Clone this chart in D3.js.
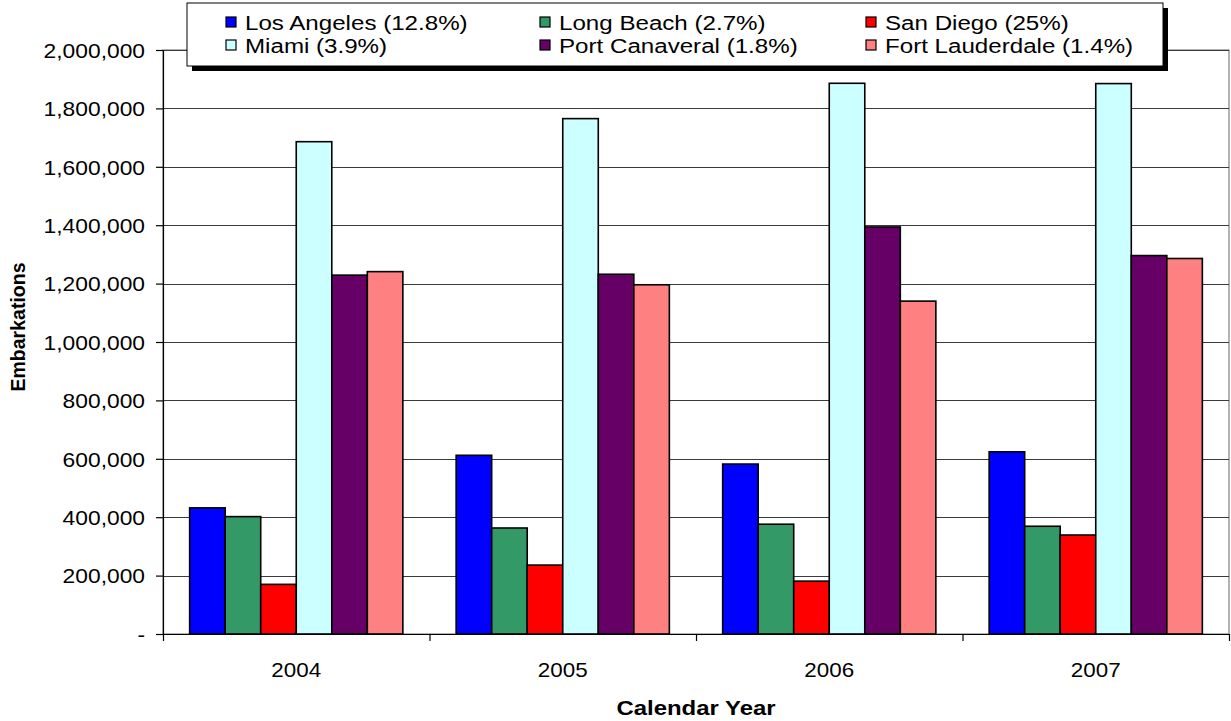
<!DOCTYPE html>
<html>
<head>
<meta charset="utf-8">
<script src="https://cdn.jsdelivr.net/npm/d3@7"></script>
<style>
  html, body { margin: 0; padding: 0; background: #fff; }
  svg { display: block; font-family: "Liberation Sans", Arial, sans-serif; }
</style>
</head>
<body>
<svg id="chart" width="1231" height="721"></svg>
<script>
// Cruise embarkations by port, calendar years 2004-2007
const years = ["2004", "2005", "2006", "2007"];
const ports = [
  "Los Angeles (12.8%)", "Long Beach (2.7%)", "San Diego (25%)",
  "Miami (3.9%)", "Port Canaveral (1.8%)", "Fort Lauderdale (1.4%)"
];
const losAngeles     = [432000, 612000, 582000, 624000];
const longBeach      = [402000, 363000, 376000, 369000];
const sanDiego       = [170000, 236000, 181000, 339000];
const miami          = [1686000, 1765000, 1886000, 1885000];
const portCanaveral  = [1229000, 1232000, 1394000, 1296000];
const fortLauderdale = [1241000, 1196000, 1140000, 1286000];
const yTicks = [0, 200000, 400000, 600000, 800000, 1000000, 1200000, 1400000, 1600000, 1800000, 2000000];
const colors = ["#0000FF", "#339966", "#FF0000", "#CCFFFF", "#660066", "#FF8080"];

const seriesValues = [losAngeles, longBeach, sanDiego, miami, portCanaveral, fortLauderdale];
const rows = [];
years.forEach((yr, yi) => {
  ports.forEach((p, si) => rows.push({ year: yr, port: p, si, value: seriesValues[si][yi] }));
});

const svg = d3.select("#chart");
const plot = { left: 163, right: 1229, top: 50, bottom: 634 };

const x0 = d3.scaleBand().domain(years).range([plot.left, plot.right]).paddingInner(0).paddingOuter(0);
const x1 = d3.scaleBand().domain(d3.range(ports.length)).range([0, x0.bandwidth()]).paddingInner(0).paddingOuter(0.75);
const y = d3.scaleLinear().domain([0, 2000000]).range([plot.bottom, plot.top]);
const xEdge = d3.scaleLinear().domain([0, years.length]).range([plot.left, plot.right]);

const fmt = d => d === 0 ? "-" : d3.format(",")(d);

// plot area frame
svg.append("rect")
  .attr("x", plot.left).attr("y", plot.top)
  .attr("width", plot.right - plot.left).attr("height", plot.bottom - plot.top)
  .attr("fill", "#fff").attr("stroke", "#808080").attr("stroke-width", 1.2);

// horizontal gridlines
svg.append("g")
  .selectAll("line")
  .data(yTicks.filter(d => d > 0))
  .join("line")
  .attr("x1", plot.left).attr("x2", plot.right)
  .attr("y1", d => Math.round(y(d)) + 0.5).attr("y2", d => Math.round(y(d)) + 0.5)
  .attr("stroke", "#3a3a3a").attr("stroke-width", 1);

// bars
svg.append("g")
  .selectAll("rect")
  .data(rows)
  .join("rect")
  .attr("x", d => x0(d.year) + x1(d.si))
  .attr("y", d => y(d.value))
  .attr("width", x1.bandwidth())
  .attr("height", d => y(0) - y(d.value))
  .attr("fill", d => colors[d.si])
  .attr("stroke", "#000").attr("stroke-width", 1.6);

// y axis
const yAxis = svg.append("g")
  .attr("transform", `translate(${plot.left},0)`)
  .call(d3.axisLeft(y).tickValues(yTicks).tickFormat(fmt).tickSize(7).tickSizeOuter(0));
yAxis.select(".domain").attr("stroke", "#000").attr("stroke-width", 1.2);
yAxis.selectAll(".tick line").attr("stroke", "#000").attr("stroke-width", 1.2);
yAxis.selectAll(".tick text")
  .attr("x", 0).attr("dy", "0.36em")
  .attr("transform", "translate(-18,0) scale(1.14,1)")
  .attr("font-size", 20).attr("fill", "#000")
  .attr("font-family", "Liberation Sans, Arial, sans-serif");

// x axis: boundary ticks
const xAxis = svg.append("g")
  .attr("transform", `translate(0,${plot.bottom})`)
  .call(d3.axisBottom(xEdge).tickValues(d3.range(years.length + 1)).tickFormat("").tickSize(7).tickSizeOuter(0));
xAxis.select(".domain").attr("stroke", "#000").attr("stroke-width", 1.2);
xAxis.selectAll(".tick line").attr("stroke", "#000").attr("stroke-width", 1.2);

// x axis: year labels centred in each band
const xLabels = svg.append("g")
  .attr("transform", `translate(0,${plot.bottom})`)
  .call(d3.axisBottom(x0).tickSize(0).tickPadding(0));
xLabels.select(".domain").remove();
xLabels.selectAll(".tick text")
  .attr("y", 0).attr("dy", 0)
  .attr("transform", "translate(0,43) scale(1.12,1)")
  .attr("font-size", 20).attr("fill", "#000")
  .attr("font-family", "Liberation Sans, Arial, sans-serif");

// axis titles
svg.append("text")
  .attr("transform", `translate(${(plot.left + plot.right) / 2},715) scale(1.14,1)`)
  .attr("text-anchor", "middle")
  .attr("font-size", 21).attr("font-weight", "bold")
  .text("Calendar Year");

svg.append("text")
  .attr("transform", "translate(25,327) rotate(-90)")
  .attr("text-anchor", "middle")
  .attr("font-size", 19.5).attr("font-weight", "bold")
  .text("Embarkations");

// legend box with drop shadow
const legend = { x: 187, y: 3, w: 976, h: 63 };
svg.append("rect")
  .attr("x", legend.x + 5).attr("y", legend.y + 5)
  .attr("width", legend.w).attr("height", legend.h)
  .attr("fill", "#000");
svg.append("rect")
  .attr("x", legend.x).attr("y", legend.y)
  .attr("width", legend.w).attr("height", legend.h)
  .attr("fill", "#fff").attr("stroke", "#000").attr("stroke-width", 1);

const colX = [226, 540, 866];
const rowY = [22, 45];
const items = svg.append("g")
  .selectAll("g")
  .data(ports)
  .join("g")
  .attr("transform", (d, i) => `translate(${colX[i % 3]},${rowY[Math.floor(i / 3)]})`);
items.append("rect")
  .attr("x", 0).attr("y", -5).attr("width", 10).attr("height", 10)
  .attr("fill", (d, i) => colors[i])
  .attr("stroke", "#000").attr("stroke-width", 1.2);
items.append("text")
  .attr("transform", "translate(19,7.5) scale(1.15,1)")
  .attr("font-size", 21).attr("fill", "#000")
  .text(d => d);
</script>
</body>
</html>
